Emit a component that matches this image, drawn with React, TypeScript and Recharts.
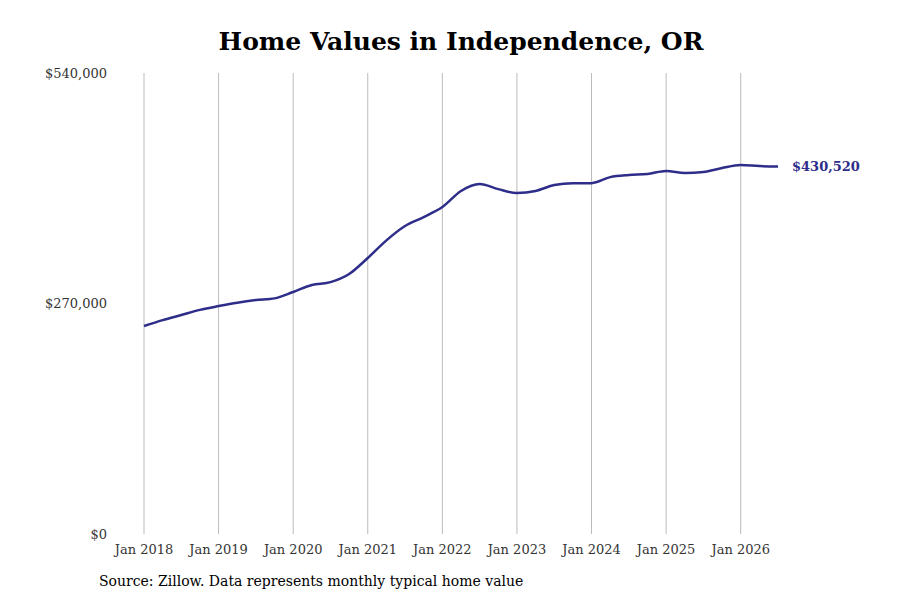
import React from 'react';
import { LineChart, Line, XAxis, YAxis, CartesianGrid } from 'recharts';

const months = [0,3,6,9,12,15,18,21,24,27,30,33,36,39,42,45,48,51,54,57,60,63,66,69,72,75,78,81,84,87,90,93,96,99,102];
const values = [243600,250500,256500,262500,267000,271000,274000,276000,283500,291700,295000,304500,323300,344000,360800,371300,383000,401800,410000,404000,399400,401800,408800,411000,411000,418000,420500,421700,425200,422900,424000,428700,432200,431000,430520];
const xTicks = [0,12,24,36,48,60,72,84,96];
const xLabels = ['Jan 2018','Jan 2019','Jan 2020','Jan 2021','Jan 2022','Jan 2023','Jan 2024','Jan 2025','Jan 2026'];
const yTicks = [0,270000,540000];

const data = months.map((m, i) => ({ m, v: values[i] }));
const COLOR = '#2e2e8a';
const font = '"DejaVu Serif", "Liberation Serif", serif';

const EndLabel = (props: any) => {
  const { x, y, index } = props;
  if (index !== data.length - 1) return null;
  return <text x={x + 14} y={y} dy={5} fill={COLOR} fontWeight="bold" fontSize={13} fontFamily={font}>$430,520</text>;
};

export default function App() {
  return (
    <div style={{ position: 'absolute', left: 0, top: 0, width: 900, height: 600, background: '#fff', fontFamily: font }}>
      <div style={{ position: 'absolute', top: 27, width: 922, textAlign: 'center', fontSize: 25, fontWeight: 'bold', fontFamily: font }}>Home Values in Independence, OR</div>
      <LineChart width={900} height={600} data={data} margin={{ top: 73, right: 122, bottom: 0, left: 0 }}>
        <CartesianGrid horizontal={false} stroke="#bbb"
          verticalCoordinatesGenerator={({ offset }: any) => xTicks.map((t) => offset.left + (t / 102) * offset.width)} />
        <XAxis dataKey="m" type="number" domain={[0, 102]} ticks={xTicks} tickFormatter={(v: number) => xLabels[xTicks.indexOf(v)]} axisLine={false} tickLine={false} tickSize={0} tickMargin={11} interval={0} tick={{ fill: '#333', fontSize: 13, fontFamily: font }} height={66} />
        <YAxis type="number" domain={[0, 540000]} ticks={yTicks} tickFormatter={(v: number) => '$' + v.toLocaleString('en-US')} axisLine={false} tickLine={false} tickSize={0} tickMargin={37} width={144} tick={{ fill: '#333', fontSize: 13, fontFamily: font }} />
        <Line type="monotone" dataKey="v" stroke={COLOR} strokeWidth={2.5} dot={false} isAnimationActive={false} label={<EndLabel />} />
      </LineChart>
      <div style={{ position: 'absolute', left: 99, top: 573, fontSize: 14, fontFamily: font }}>Source: Zillow. Data represents monthly typical home value</div>
    </div>
  );
}
